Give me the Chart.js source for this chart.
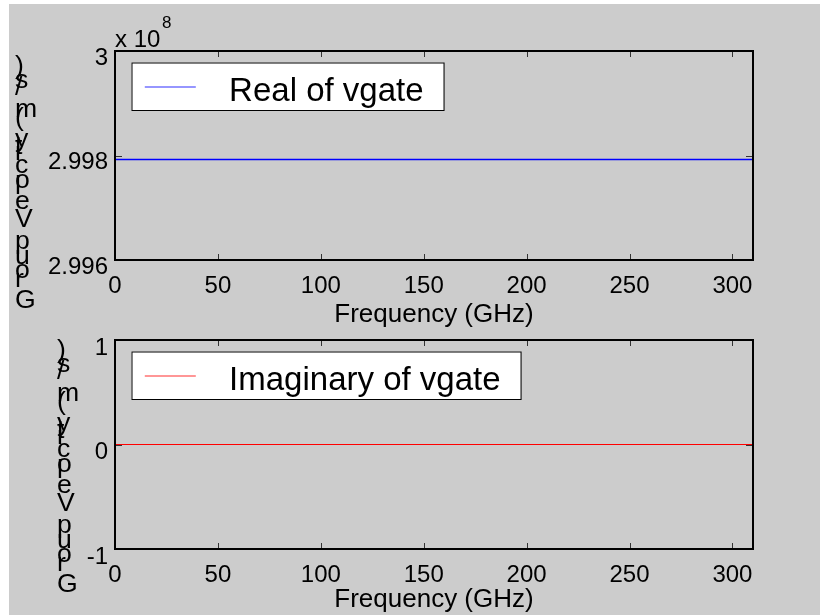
<!DOCTYPE html>
<html>
<head>
<meta charset="utf-8">
<script src="https://cdn.jsdelivr.net/npm/chart.js@4"></script>
<style>
  body { margin: 0; background: #fff; }
  #fondo { position: absolute; left: 9px; top: 4px; width: 811px; height: 611px; background: #cccccc; }
  canvas { position: absolute; left: 0; }
  #chartReal { top: 0; }
  #chartImag { top: 290px; }
</style>
</head>
<body>
<div id="fondo"></div>
<canvas id="chartReal" width="820" height="330"></canvas>
<canvas id="chartImag" width="820" height="325"></canvas>
<script>
// ===== DATOS =====
const frecuencias = [0, 50, 100, 150, 200, 250, 300, 310];
const velReal = [299792458, 299792458, 299792458, 299792458, 299792458, 299792458, 299792458, 299792458];
const velImag = [0, 0, 0, 0, 0, 0, 0, 0];

const xTicks = [0, 50, 100, 150, 200, 250, 300];
const yTicksReal = [299600000, 299800000, 300000000];
const yTickLabelsReal = ['2.996', '2.998', '3'];
const yTicksImag = [-1, 0, 1];
const yTickLabelsImag = ['-1', '0', '1'];

const etiquetaX = 'Frequency (GHz)';
const etiquetaY = 'Group Velocity (m/s)';
const FUENTE = '"Liberation Sans", Arial, sans-serif';

// ===== PLUGIN: marco, ticks internos, leyenda y etiqueta Y =====
const marcoMatlab = {
    id: 'marcoMatlab',
    afterDatasetsDraw(chart, args, opts) {
        const { ctx, chartArea: a, scales } = chart;
        ctx.save();

        // Ticks hacia adentro en los cuatro lados
        ctx.strokeStyle = '#333';
        ctx.lineWidth = 1;
        ctx.beginPath();
        scales.x.ticks.forEach(t => {
            const px = Math.round(scales.x.getPixelForValue(t.value)) + 0.5;
            ctx.moveTo(px, a.top); ctx.lineTo(px, a.top + 6);
            ctx.moveTo(px, a.bottom); ctx.lineTo(px, a.bottom - 6);
        });
        scales.y.ticks.forEach(t => {
            const py = Math.round(scales.y.getPixelForValue(t.value)) + 0.5;
            ctx.moveTo(a.left, py); ctx.lineTo(a.left + 7, py);
            ctx.moveTo(a.right, py); ctx.lineTo(a.right - 7, py);
        });
        ctx.stroke();

        // Marco
        ctx.strokeStyle = '#000';
        ctx.lineWidth = 2;
        ctx.strokeRect(a.left, a.top, a.right - a.left, a.bottom - a.top);

        // Leyenda dentro del área
        const ds = chart.data.datasets[0];
        ctx.font = '33px ' + FUENTE;
        const bx = a.left + 16.5, by = a.top + 11.5;
        const tx = bx + 97.6;
        const bw = tx - bx + ctx.measureText(ds.label).width + 20;
        ctx.fillStyle = '#fff';
        ctx.fillRect(bx, by, bw, 47.5);
        ctx.strokeStyle = '#000';
        ctx.lineWidth = 1;
        ctx.strokeRect(bx + 0.5, by + 0.5, bw, 47.5);
        ctx.strokeStyle = opts.muestra;
        ctx.lineWidth = 1.5;
        ctx.beginPath();
        ctx.moveTo(bx + 13.3, by + 24.5);
        ctx.lineTo(bx + 64.3, by + 24.5);
        ctx.stroke();
        ctx.fillStyle = '#000';
        ctx.textBaseline = 'alphabetic';
        ctx.textAlign = 'left';
        ctx.fillText(ds.label, tx, by + 38.5);

        // Etiqueta Y: letras verticales apiladas de abajo hacia arriba
        ctx.font = '26.6px ' + FUENTE;
        let avance = 0;
        for (const ch of etiquetaY) {
            ctx.fillText(ch, opts.yLabelX, opts.yLabelY - avance);
            avance += ctx.measureText(ch).width;
        }

        // Exponente del eje
        if (opts.exponente) {
            ctx.font = '24px ' + FUENTE;
            ctx.fillText('x 10', a.left, a.top - 4);
            ctx.font = '17px ' + FUENTE;
            ctx.fillText(opts.exponente, a.left + 47, a.top - 23);
        }
        ctx.restore();
    }
};

function crearGrafico(id, etiqueta, valores, color, muestra, yTicks, yLabels, cfg) {
    const canvas = document.getElementById(id);
    return new Chart(canvas.getContext('2d'), {
        type: 'line',
        data: {
            datasets: [{
                label: etiqueta,
                data: frecuencias.map((f, i) => ({ x: f, y: valores[i] })),
                borderColor: color,
                borderWidth: cfg.grosor,
                pointRadius: 0,
                fill: false,
                tension: 0
            }]
        },
        options: {
            responsive: false,
            animation: false,
            devicePixelRatio: 1,
            layout: { padding: { top: cfg.arriba, right: 67, left: 0, bottom: 0 } },
            plugins: {
                legend: { display: false },
                tooltip: { enabled: false },
                marcoMatlab: { muestra: muestra, yLabelX: cfg.yLabelX, yLabelY: cfg.yLabelY, exponente: cfg.exponente }
            },
            scales: {
                x: {
                    type: 'linear',
                    min: 0,
                    max: 310,
                    grid: { display: false, drawTicks: false },
                    border: { display: false },
                    afterBuildTicks: s => { s.ticks = xTicks.map(v => ({ value: v })); },
                    afterFit: s => { s.height = cfg.altoX; },
                    ticks: {
                        color: '#000',
                        font: { size: 24, family: FUENTE },
                        padding: 12,
                        maxRotation: 0,
                        callback: v => String(v)
                    },
                    title: {
                        display: true,
                        text: etiquetaX,
                        color: '#000',
                        font: { size: 26, family: FUENTE },
                        padding: { top: 0, bottom: 0 }
                    }
                },
                y: {
                    type: 'linear',
                    min: yTicks[0],
                    max: yTicks[yTicks.length - 1],
                    grid: { display: false, drawTicks: false },
                    border: { display: false },
                    afterBuildTicks: s => { s.ticks = yTicks.map(v => ({ value: v })); },
                    afterFit: s => { s.width = 115; },
                    ticks: {
                        color: '#000',
                        font: { size: 24, family: FUENTE },
                        padding: 7,
                        labelOffset: cfg.offsetY,
                        callback: (v, i) => yLabels[i]
                    }
                }
            }
        },
        plugins: [marcoMatlab]
    });
}

crearGrafico('chartReal', 'Real of vgate', velReal, '#0000ff', '#7373ff',
    yTicksReal, yTickLabelsReal,
    { arriba: 51, altoX: 70, grosor: 1.5, offsetY: 7, yLabelX: 15, yLabelY: 308, exponente: '8' });

crearGrafico('chartImag', 'Imaginary of vgate', velImag, '#ff0000', '#ff7373',
    yTicksImag, yTickLabelsImag,
    { arriba: 50, altoX: 66, grosor: 1.2, offsetY: 8, yLabelX: 57, yLabelY: 302, exponente: null });
</script>
</body>
</html>
